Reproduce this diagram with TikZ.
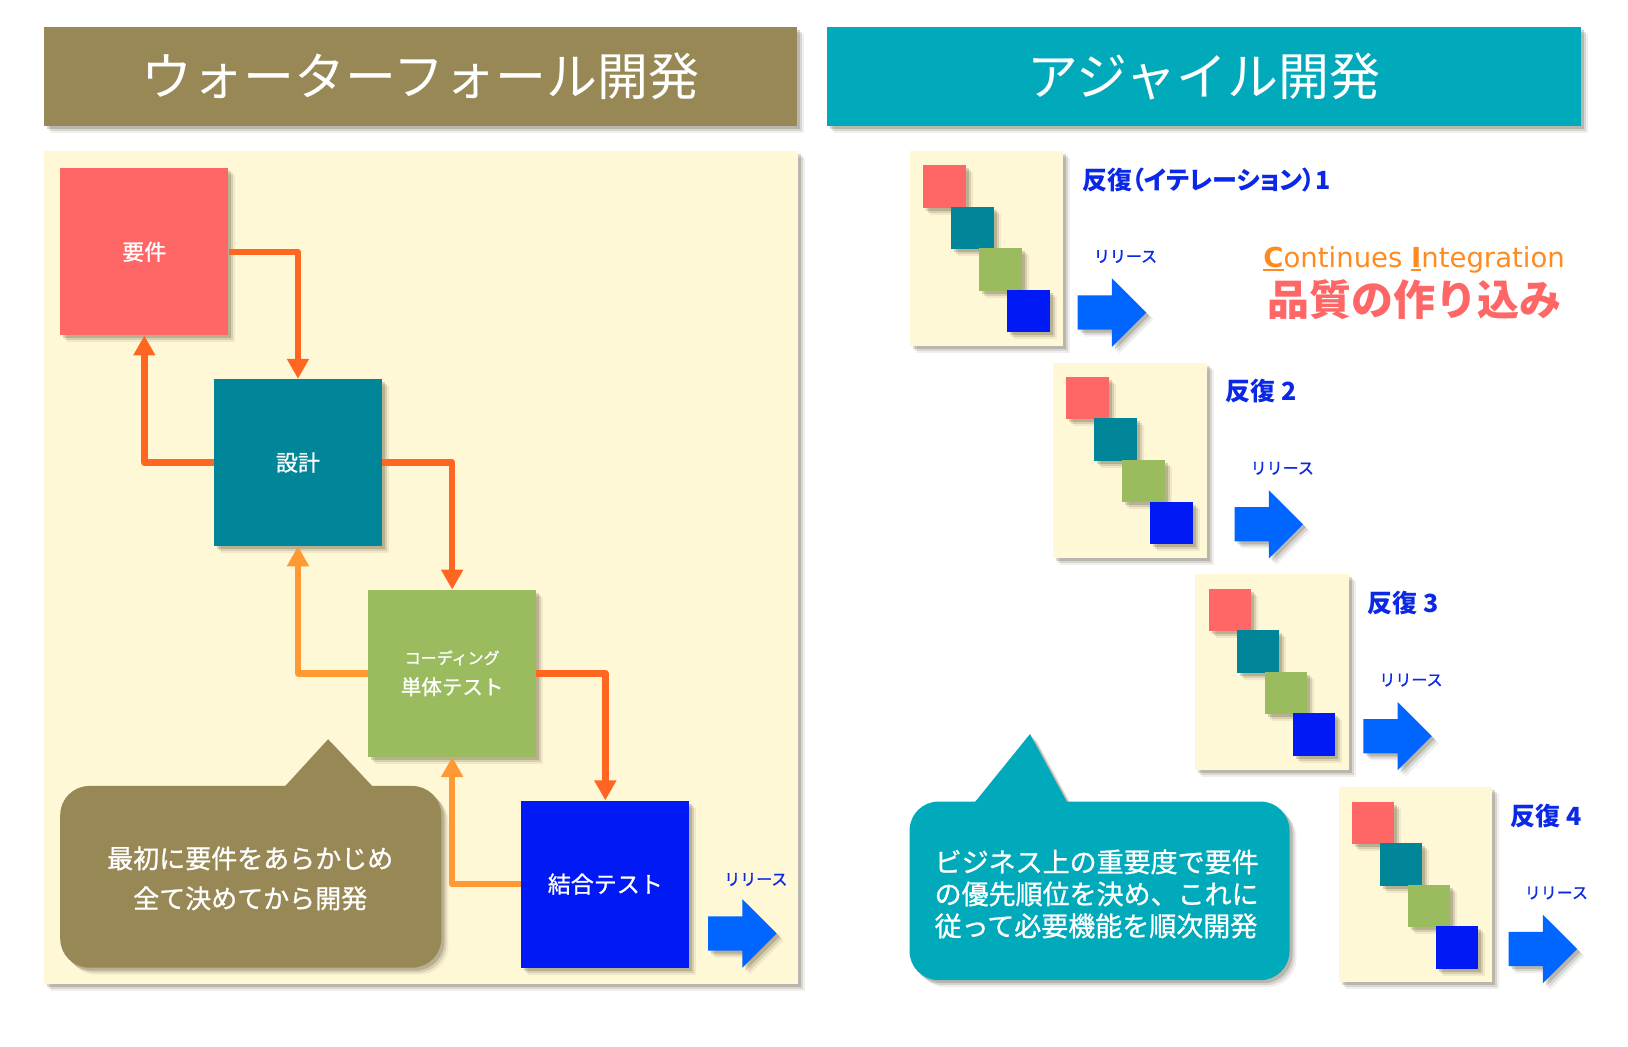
\documentclass[tikz,border=0pt]{standalone}
\usepackage{fontspec}
\setmainfont{Noto Sans CJK JP}
\newfontfamily\medfont[FakeBold=1]{Noto Sans CJK JP}
\newfontfamily\latinfont{DejaVu Sans}
\usetikzlibrary{shadows,arrows.meta}
\definecolor{wfbrown}{HTML}{978855}
\definecolor{agteal}{HTML}{00AABB}
\definecolor{cream}{HTML}{FFF8D7}
\definecolor{boxred}{HTML}{FF6666}
\definecolor{boxteal}{HTML}{008599}
\definecolor{boxgreen}{HTML}{9BBB5F}
\definecolor{boxblue}{HTML}{0019F5}
\definecolor{darkor}{HTML}{FF6622}
\definecolor{lightor}{HTML}{FF9933}
\definecolor{relblue}{HTML}{0066FF}
\definecolor{labblue}{HTML}{0A28E6}
\definecolor{ciorange}{HTML}{FF8A1F}
\definecolor{shcol}{HTML}{403820}
\newcommand\setfs[1]{\fontsize{#1}{#1}\selectfont}
\newcommand\ciul[1]{\setbox0\hbox{#1}\rlap{\rule[-4pt]{\wd0}{2.2pt}}\box0}
\begin{document}
\begin{tikzpicture}[x=1.0383pt,y=-1.0383pt,
  shad/.style={drop shadow={shadow xshift=7pt,shadow yshift=-7pt,opacity=0.08,fill=shcol},
               drop shadow={shadow xshift=5pt,shadow yshift=-5pt,opacity=0.14,fill=shcol},
               drop shadow={shadow xshift=3pt,shadow yshift=-3pt,opacity=0.2,fill=shcol}},
  header/.style={shad,minimum width=753.8pt,minimum height=98.6pt,inner sep=0pt,text=white,font=\setfs{51}},
  bigsq/.style={shad,minimum width=168pt,minimum height=167pt,inner sep=0pt,text=white,align=center},
  smsq/.style={shad,minimum size=42.5pt,inner sep=0pt},
  conn/.style={line width=6.5pt,line join=round,-{Triangle[length=20pt,width=21pt]}},
  itlabel/.style={anchor=west,text=labblue,inner sep=0pt,font=\setfs{25}\bfseries\addfontfeatures{RawFeature=+palt}},
  rellabel/.style={text=labblue,inner sep=0pt,font=\medfont\setfs{16}},
  relarr/.pic={\fill[relblue,shad] (0,16.5) -- (33,16.5) -- (33,0) -- (66,33) -- (33,66) -- (33,49.5) -- (0,49.5) -- cycle;}
]
\useasboundingbox (0,0) rectangle (1568,1008);
% headers
\node[header,fill=wfbrown] (wfhead) at (405,73.5) {ウォーターフォール開発};
\node[header,fill=agteal] (aghead) at (1159.5,73.5) {アジャイル開発};
% waterfall panel
\node[shad,fill=cream,minimum width=753.8pt,minimum height=833.7pt,inner sep=0pt,anchor=north west] (wfpanel) at (42,145) {};
% boxes
\node[bigsq,fill=boxred,font=\medfont\setfs{22}] (req) at (139,242.5) {要件};
\node[bigsq,fill=boxteal,font=\medfont\setfs{22}] (des) at (287,445.5) {設計};
\node[bigsq,fill=boxgreen,font=\medfont] (cod) at (435.5,648.5) {{\setfs{16}コーディング}\\[11pt]{\setfs{20.5}単体テスト}};
\node[bigsq,fill=boxblue,font=\medfont\setfs{23}] (int) at (583,851.5) {結合テスト};
% connectors
\draw[conn,darkor] (req.east) -| (des.north);
\draw[conn,darkor] (des.west) -| (req.south);
\draw[conn,darkor] (des.east) -| (cod.north);
\draw[conn,lightor] (cod.west) -| (des.south);
\draw[conn,darkor] (cod.east) -| (int.north);
\draw[conn,lightor] (int.west) -| (cod.south);
% waterfall release
\node[rellabel] (wfrel) at (728,847) {リリース};
\pic at (682,866) {relarr};
% left callout
\fill[wfbrown,shad] (272,760) -- (316,712) -- (361,760) -- cycle;
\fill[wfbrown,shad,rounded corners=29] (58,757) rectangle (425,932);
\node[text=white,align=center,font=\medfont\setfs{26},inner sep=0pt] (wfnote) at (241,846) {最初に要件をあらかじめ\\[14pt]全て決めてから開発};
% agile iterations
\foreach \i/\px/\py/\lab/\rx in {1/876/145/反復（イテレーション）1/1084,2/1014/349/反復 2/1235,3/1151/553/反復 3/1359,4/1289/758/反復 4/1499}{
  \node[shad,fill=cream,minimum width=153.7pt,minimum height=195.2pt,inner sep=0pt,anchor=north west] (pan\i) at (\px,\py) {};
  \node[smsq,fill=boxred] (sa\i) at ({\px+13+20.5},{\py+14+20.5}) {};
  \node[smsq,fill=boxteal] (sb\i) at ({\px+40+20.5},{\py+54+20.5}) {};
  \node[smsq,fill=boxgreen] (sc\i) at ({\px+67+20.5},{\py+94+20.5}) {};
  \node[smsq,fill=boxblue] (sd\i) at ({\px+94+20.5},{\py+134+20.5}) {};
  \node[itlabel] (lab\i) at ({\px+166},{\py+28}) {\lab};
  \node[rellabel] (rel\i) at (\rx,{\py+102}) {リリース};
  \pic at ({\rx-46},{\py+123}) {relarr};
}
% CI text
\node[text=ciorange,inner sep=0pt,font=\latinfont\setfs{27.5}] (ci) at (1362,250) {\ciul{\textbf{C}}ontinues \ciul{\textbf{I}}ntegration};
\node[text=boxred,inner sep=0pt,font=\setfs{42}\bfseries] (quality) at (1362,289) {品質の作り込み};
% right callout
\fill[agteal,shad] (937,775) -- (992,707) -- (1029,775) -- cycle;
\fill[agteal,shad,rounded corners=29] (876,772) rectangle (1242,944);
\node[text=white,align=left,font=\medfont\setfs{27},inner sep=0pt,anchor=west] (agnote) at (900,861) {ビジネス上の重要度で要件\\[5pt]の優先順位を決め、これに\\[5pt]従って必要機能を順次開発};
\end{tikzpicture}
\end{document}
